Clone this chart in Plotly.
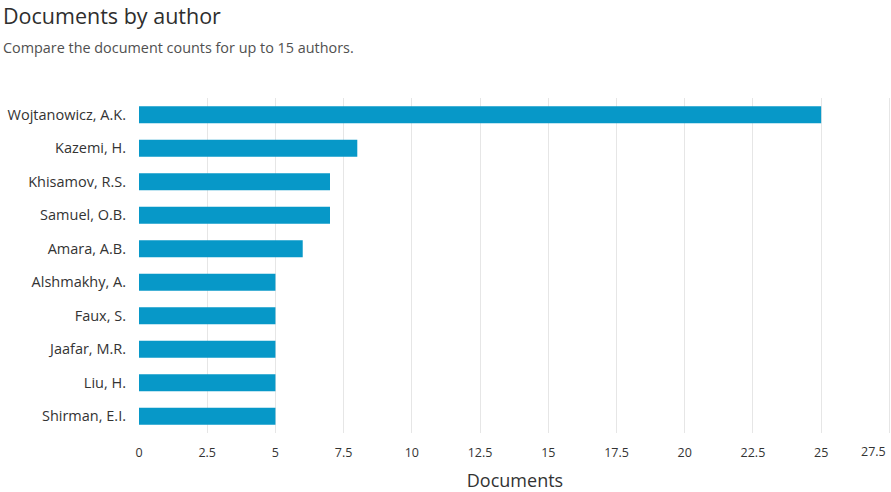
import plotly.graph_objects as go

authors = ["Wojtanowicz, A.K.", "Kazemi, H.", "Khisamov, R.S.", "Samuel, O.B.", "Amara, A.B.",
           "Alshmakhy, A.", "Faux, S.", "Jaafar, M.R.", "Liu, H.", "Shirman, E.I."]
documents = [25, 8, 7, 7, 6, 5, 5, 5, 5, 5]
x_ticks = [0, 2.5, 5, 7.5, 10, 12.5, 15, 17.5, 20, 22.5, 25, 27.5]
x_tick_labels = ["0", "2.5", "5", "7.5", "10", "12.5", "15", "17.5", "20", "22.5", "25", "27.5"]

FONT = "'Open Sans', Lato, sans-serif"

fig = go.Figure(go.Bar(
    x=documents, y=authors, orientation="h",
    marker=dict(color="#0798c8", line=dict(width=0)),
    hoverinfo="x+y",
))

fig.update_layout(
    width=891, height=492,
    paper_bgcolor="white", plot_bgcolor="white",
    margin=dict(l=139, r=0, t=98, b=59),
    bargap=0.49,
    showlegend=False,
    font=dict(family=FONT, color="#333333", size=13),
    xaxis=dict(
        range=[0, 27.56], tickmode="array", tickvals=x_ticks,
        ticktext=x_tick_labels[:-1] + [""],
        showgrid=True, gridcolor="#e6e6e6", gridwidth=1,
        zeroline=False, showline=False, ticks="",
        ticklabelstandoff=10,
        tickfont=dict(size=12.5, color="#333333"),
        title=dict(text="Documents", font=dict(size=18, color="#333333"), standoff=19),
        fixedrange=True,
    ),
    yaxis=dict(
        categoryorder="array", categoryarray=authors, autorange="reversed",
        showgrid=False, zeroline=False, showline=False, ticks="",
        ticklabelstandoff=12,
        tickfont=dict(size=14.5, color="#333333"),
        fixedrange=True,
    ),
    annotations=[
        dict(text="Documents by author", xref="paper", yref="paper", x=-138/752, y=1 + 83/335,
             xanchor="left", yanchor="middle", showarrow=False,
             font=dict(size=21.5, color="#2e2e2e", family=FONT)),
        dict(text="Compare the document counts for up to 15 authors.", xref="paper", yref="paper",
             x=-138/752, y=1 + 51/335, xanchor="left", yanchor="middle", showarrow=False,
             font=dict(size=14.4, color="#505050", family=FONT)),
        dict(text=x_tick_labels[-1], xref="x", yref="paper", x=x_ticks[-1], y=0,
             xanchor="right", yanchor="top", yshift=-8, xshift=-1, showarrow=False,
             font=dict(size=12.5, color="#333333", family=FONT)),
    ],
)

fig.write_html("out.html", config={"displayModeBar": False},
               post_script="document.body.style.margin='0';")
